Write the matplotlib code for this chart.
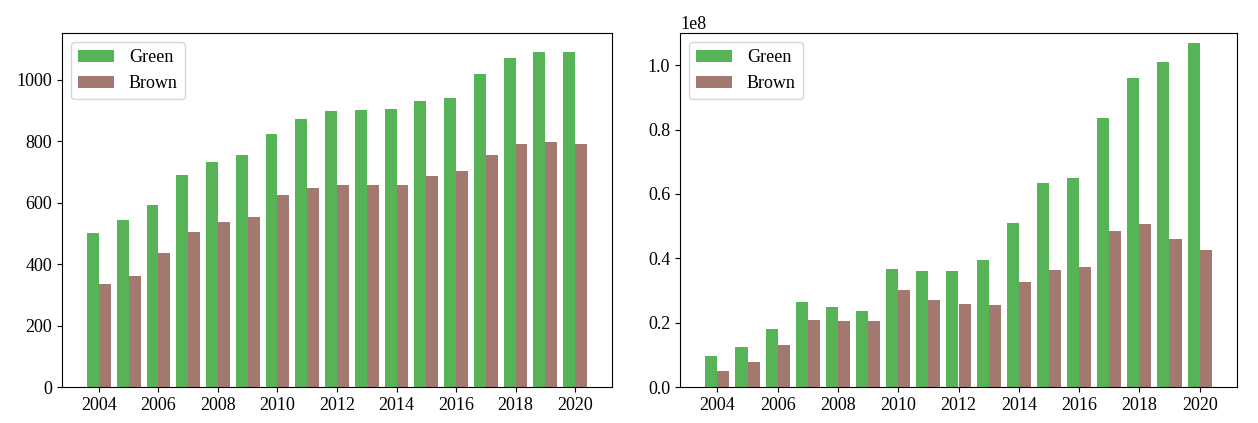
import matplotlib
matplotlib.use("Agg")
import matplotlib.pyplot as plt
import numpy as np

plt.rcParams['font.family'] = ['Liberation Serif', 'DejaVu Serif']
plt.rcParams['font.size'] = 13

years = list(range(2004, 2021))
green_left = [502, 543, 592, 690, 733, 757, 825, 873, 898, 903, 905, 933, 942, 1018, 1070, 1090, 1090]
brown_left = [335, 360, 435, 505, 537, 553, 625, 648, 657, 657, 657, 686, 703, 757, 790, 797, 793]
green_right = [0.095, 0.125, 0.18, 0.265, 0.248, 0.235, 0.368, 0.36, 0.362, 0.395, 0.51, 0.635, 0.648, 0.835, 0.96, 1.01, 1.07]
brown_right = [0.05, 0.078, 0.13, 0.208, 0.205, 0.205, 0.30, 0.27, 0.258, 0.255, 0.325, 0.365, 0.372, 0.485, 0.505, 0.46, 0.425]

fig = plt.figure(figsize=(12.58, 4.23), dpi=100)
ax1 = fig.add_axes([62/1258, 36/423, 550/1258, 354/423])
ax2 = fig.add_axes([680/1258, 36/423, 557/1258, 354/423])
x = np.array(years)
w = 0.4
gc = 'tab:green'; bc = 'tab:brown'
for ax, g, b in [(ax1, green_left, brown_left), (ax2, np.array(green_right)*1e8, np.array(brown_right)*1e8)]:
    ax.bar(x - w/2, g, w, color=gc, alpha=0.8, label='Green')
    ax.bar(x + w/2, b, w, color=bc, alpha=0.8, label='Brown')
    ax.set_xticks(range(2004, 2021, 2))
    ax.legend(loc='upper left', fontsize=13)
ax1.set_ylim(0, 1153)
ax2.set_ylim(0, 1.10e8)
fig.savefig('out.png', dpi=100)
